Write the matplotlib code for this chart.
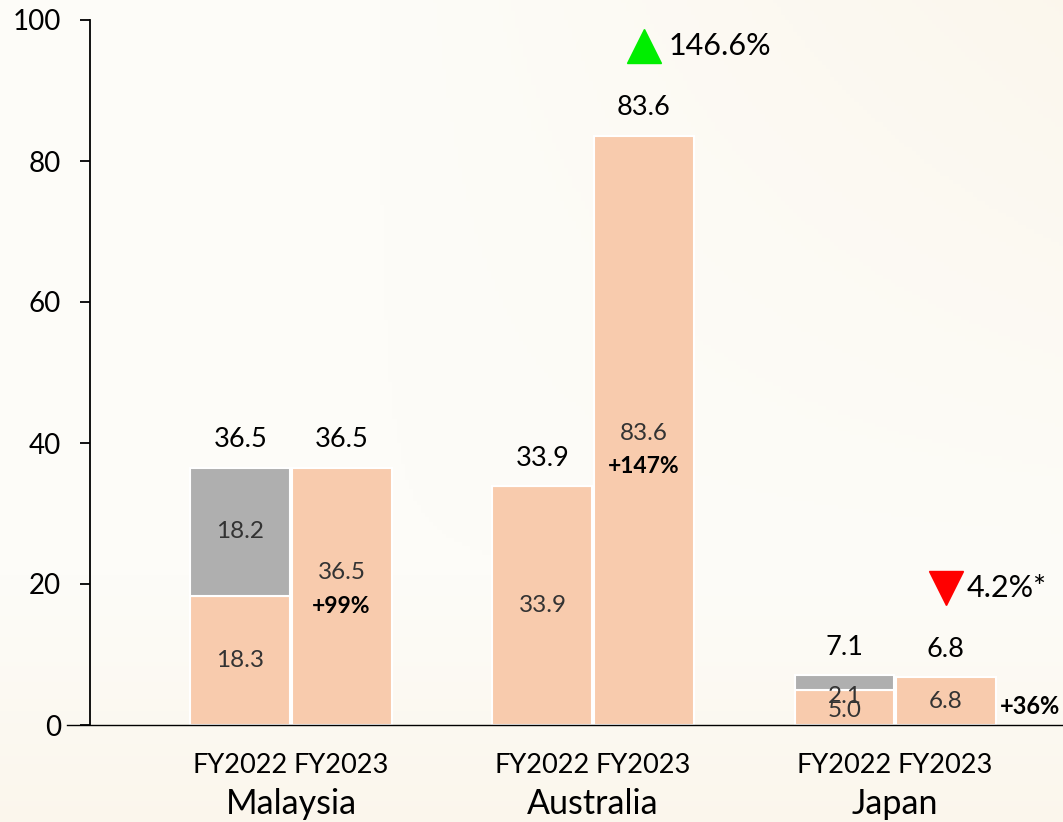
import numpy as np
import matplotlib
matplotlib.use("Agg")
import matplotlib.pyplot as plt
from matplotlib.colors import LinearSegmentedColormap

# ---- data ----
countries = ["Malaysia", "Australia", "Japan"]
years = ["FY2022", "FY2023"]
fy2022_base = [18.3, 33.9, 5.0]
fy2022_other = [18.2, 0.0, 2.1]
fy2023_vals = [36.5, 83.6, 6.8]
growth_labels = ["+99%", "+147%", "+36%"]
yoy_change = ["146.6%", "4.2%*"]   # Australia (up), Japan (down)
y_ticks = [0, 20, 40, 60, 80, 100]

PEACH = "#F8CBAD"
GRAY = "#AFAFAF"
FONT = ["Lato", "DejaVu Sans"]
plt.rcParams["font.family"] = FONT

W, H = 1063, 822
fig = plt.figure(figsize=(W / 100, H / 100), dpi=100)

# background gradient
bg = fig.add_axes([0, 0, 1, 1], zorder=-10)
yy, xx = np.mgrid[0:1:200j, 0:1:260j]
field = 0.55 * np.clip((xx - 0.35) * 1.2, 0, 1) * np.clip(1 - yy * 1.4, 0, 1) + 0.5 * np.clip((yy - 0.7) * 3, 0, 1)
field = np.clip(field, 0, 1)
cmap = LinearSegmentedColormap.from_list("bg", ["#FDFCF8", "#F9F0DE"])
bg.imshow(field, cmap=cmap, aspect="auto", extent=[0, 1, 0, 1], origin="upper", vmin=0, vmax=1)
bg.axis("off")

ax_left, ax_right = 90, 1063
ax_top, ax_bot = 20, 725
ax = fig.add_axes([ax_left / W, (H - ax_bot) / H, (ax_right - ax_left) / W, (ax_bot - ax_top) / H])
ax.patch.set_alpha(0)

x = np.arange(len(countries))
bw = 0.331
off = 0.1675
x22 = x - off
x23 = x + off

ax.bar(x22, fy2022_base, width=bw, color=PEACH, edgecolor="white", linewidth=1.5, zorder=2)
ax.bar(x22, fy2022_other, width=bw, bottom=fy2022_base, color=GRAY, edgecolor="white", linewidth=1.5, zorder=2)
ax.bar(x23, fy2023_vals, width=bw, color=PEACH, edgecolor="white", linewidth=1.5, zorder=2)

ax.set_xlim(-0.6656, 2.556)
ax.set_ylim(0, 100)
ax.set_yticks(y_ticks)
ax.tick_params(axis="y", labelsize=20, length=7, width=1.3, pad=14, colors="black")
ax.set_xticks(np.concatenate([x22, x23]))
ax.set_xticklabels(years[:1] * 3 + years[1:] * 3)
ax.tick_params(axis="x", length=0, labelsize=19.5, pad=20)
for s in ["top", "right", "bottom"]:
    ax.spines[s].set_visible(False)
ax.spines["left"].set_linewidth(1.3)
ax.axhline(0, xmin=-(ax_left - 67) / (ax_right - ax_left), xmax=1, color="black", lw=1.0, clip_on=False, zorder=3)

# country names
for xi, name in zip(x, countries):
    ax.annotate(name, (xi, 0), xytext=(0, -57), textcoords="offset points",
                ha="center", va="center", fontsize=24.5)

INNER = dict(ha="center", va="center", fontsize=17.5, color="#333333")
# FY2022 segment labels
for xi, b, o in zip(x22, fy2022_base, fy2022_other):
    if b > 0:
        yb = b / 2 if b > 8 else b / 2 - 0.5
        ax.text(xi, yb, f"{b:.1f}", **INNER, zorder=4)
    if o > 0:
        yo = b + o / 2 if o > 8 else b + o / 2 - 2.0
        ax.text(xi, yo, f"{o:.1f}", **INNER, zorder=4)

# FY2023 inner labels + growth
for i, (xi, v, g) in enumerate(zip(x23, fy2023_vals, growth_labels)):
    if v > 20:
        shift = 3.4 if i == 0 else -0.4
        ax.text(xi, v / 2 + shift, f"{v:.1f}", **INNER, zorder=4)
        ax.text(xi, v / 2 + shift - 4.8, g, ha="center", va="center", fontsize=16.5,
                fontweight="bold", color="black", zorder=4)
    else:
        ax.text(xi, v / 2, f"{v:.1f}", **INNER, zorder=4)
        ax.annotate(g, (xi + bw / 2, v / 2 - 0.8), xytext=(3, 0), textcoords="offset points",
                    ha="left", va="center", fontsize=17, fontweight="bold", color="black")

# totals on top
tot22 = [b + o for b, o in zip(fy2022_base, fy2022_other)]
for xi, t in zip(x22, tot22):
    ax.annotate(f"{t:.1f}", (xi, t), xytext=(0, 20), textcoords="offset points",
                ha="center", va="center", fontsize=19.5)
for xi, t in zip(x23, fy2023_vals):
    ax.annotate(f"{t:.1f}", (xi, t), xytext=(0, 20), textcoords="offset points",
                ha="center", va="center", fontsize=19.5)

# YoY change markers
marks = [(1, "^", "#00EE00", yoy_change[0], 18), (2, "v", "#FF0000", yoy_change[1], 15)]
for idx, mk, col, txt, dx in marks:
    yv = fy2023_vals[idx] + 12.7
    ax.plot([x23[idx]], [yv], marker=mk, markersize=25, color=col, linestyle="none", clip_on=False, zorder=5)
    ax.annotate(txt, (x23[idx], yv), xytext=(dx, 0), textcoords="offset points",
                ha="left", va="center", fontsize=22)

fig.savefig("out.png", dpi=100)
